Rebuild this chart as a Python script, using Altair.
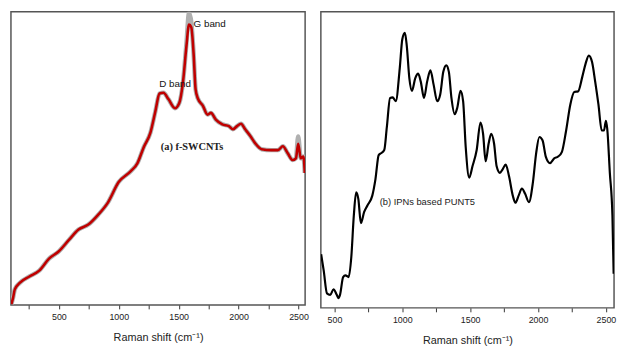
import altair as alt
import pandas as pd

# Left panel: f-SWCNTs (wavenumber, intensity in arbitrary units 0-100)
a_w = [104, 118, 132, 173, 254, 336, 418, 500, 582, 664, 746, 827, 909, 999, 1100, 1155,
       1209, 1264, 1305, 1340, 1373, 1414, 1469, 1504, 1537, 1564, 1586, 1605, 1624, 1641,
       1660, 1701, 1741, 1769, 1810, 1864, 1919, 1952, 1987, 2020, 2055, 2096, 2137, 2192,
       2274, 2328, 2369, 2410, 2451, 2478, 2497, 2519, 2541, 2552]
a_red = [0.3, 2.5, 5.3, 7.5, 9.7, 11.7, 15.8, 18.3, 22.1, 25.7, 27.4, 30.7, 34.9, 41.9, 45.6, 48.3,
         53.9, 58.8, 66.0, 72.1, 72.4, 70.2, 67.1, 68.8, 76.5, 88.1, 95.6, 94.7, 85.9, 73.5,
         70.4, 68.0, 64.9, 65.5, 63.2, 61.6, 61.0, 59.9, 61.0, 61.8, 59.9, 57.7, 55.2, 53.1,
         52.8, 52.8, 54.1, 51.7, 49.4, 50.0, 55.0, 50.0, 50.6, 45.0]
a_gray = [0.3, 2.5, 5.3, 7.5, 9.7, 11.7, 15.8, 18.3, 22.1, 25.7, 27.4, 30.7, 34.9, 41.9, 45.6, 48.3,
          53.9, 58.8, 66.0, 72.1, 72.4, 70.2, 67.1, 68.8, 76.5, 89.0, 99.6, 96.5, 85.9, 73.5,
          70.4, 68.0, 64.9, 65.5, 63.2, 61.6, 61.0, 59.9, 61.0, 61.8, 59.9, 57.7, 55.2, 53.1,
          52.8, 52.8, 54.1, 51.7, 49.4, 50.0, 57.5, 50.0, 50.6, 45.0]

# Right panel: IPNs based PUNT5
b_w = [402, 421, 445, 469, 493, 517, 529, 541, 564, 581, 605, 624, 643, 660, 676, 695, 719,
       743, 779, 802, 826, 843, 867, 886, 910, 929, 952, 981, 1000, 1019, 1033, 1052, 1071,
       1095, 1117, 1136, 1160, 1183, 1207, 1231, 1257, 1279, 1302, 1324, 1343, 1362, 1386,
       1405, 1429, 1448, 1467, 1493, 1517, 1548, 1576, 1595, 1614, 1636, 1655, 1676, 1695,
       1719, 1738, 1762, 1786, 1814, 1833, 1857, 1881, 1905, 1933, 1962, 1986, 2010, 2033,
       2057, 2088, 2119, 2148, 2176, 2207, 2238, 2267, 2295, 2326, 2350, 2374, 2398, 2421,
       2445, 2469, 2486, 2500, 2510, 2529, 2548, 2557]
b_i = [18.1, 12.6, 4.9, 4.4, 6.3, 4.4, 3.3, 4.4, 10.4, 11.0, 10.4, 17.0, 31.3, 39.0, 36.8, 28.6, 32.4,
       34.6, 37.9, 43.4, 51.6, 52.2, 53.3, 61.0, 70.9, 71.1, 69.8, 80.8, 90.7, 92.9, 88.5, 77.5, 73.3,
       77.5, 79.1, 76.4, 70.9, 76.4, 80.2, 75.3, 69.8, 72.0, 79.7, 81.9, 79.7, 70.9, 65.4,
       67.6, 73.3, 69.8, 54.4, 44.0, 47.8, 53.3, 62.6, 58.8, 49.5, 55.5, 58.8, 55.5, 47.8,
       45.6, 46.7, 48.4, 44.5, 37.9, 35.5, 37.9, 40.3, 38.5, 35.7, 42.3, 52.2, 57.7, 56.6,
       51.1, 48.9, 50.5, 51.1, 52.7, 59.9, 68.7, 72.9, 73.1, 78.0, 82.4, 85.2, 83.0, 76.4,
       68.7, 59.9, 59.9, 63.2, 60.4, 45.6, 31.3, 11.5]

a_ticks = [250, 500, 750, 1000, 1250, 1500, 1750, 2000, 2250, 2500]
b_ticks = [500, 750, 1000, 1250, 1500, 1750, 2000, 2250, 2500]
x_title = "Raman shift (cm\u207b\u00b9)"

a_df = pd.DataFrame({"w": a_w, "red": a_red, "gray": a_gray})
b_df = pd.DataFrame({"w": b_w, "i": b_i})

def xaxis(ticks):
    return alt.Axis(values=ticks, labelExpr="datum.value % 500 === 0 ? datum.label : ''",
                    format="d", title=x_title, grid=False, domain=False, tickSize=4,
                    tickColor="#333", labelFont="Liberation Sans", labelFontSize=9,
                    labelColor="#222", labelPadding=4, labelOverlap=False,
                    titleFont="Liberation Sans",
                    titleFontSize=11, titleFontWeight="normal", titleColor="#222",
                    titlePadding=10)

ysc = alt.Scale(domain=[0, 100])
a_sc = alt.Scale(domain=[100, 2555], nice=False, zero=False)
b_sc = alt.Scale(domain=[400, 2560], nice=False, zero=False)

ax = alt.X("w:Q", scale=a_sc, axis=xaxis(a_ticks))
gray = alt.Chart(a_df).mark_line(color="#b0b0b0", strokeWidth=4.5, interpolate="monotone",
                                 strokeJoin="round", clip=True).encode(
    x=ax, y=alt.Y("gray:Q", scale=ysc, axis=None))
red = alt.Chart(a_df).mark_line(color="#c00000", strokeWidth=2.6, interpolate="monotone",
                                strokeJoin="round", clip=True).encode(
    x=ax, y=alt.Y("red:Q", scale=ysc, axis=None))

a_lab = pd.DataFrame({"w": [1624, 1338], "y": [95.8, 75.2], "t": ["G band", "D band"]})
a_txt = alt.Chart(a_lab).mark_text(align="left", baseline="middle", font="Liberation Sans",
                                   fontSize=10, color="#111").encode(
    x=alt.X("w:Q", scale=a_sc, axis=xaxis(a_ticks)),
    y=alt.Y("y:Q", scale=ysc, axis=None), text="t:N")
a_name = pd.DataFrame({"w": [1351], "y": [53.9], "t": ["(a) f-SWCNTs"]})
a_txt2 = alt.Chart(a_name).mark_text(align="left", baseline="middle", font="Liberation Serif",
                                     fontSize=10.5, fontWeight="bold", color="#222").encode(
    x=alt.X("w:Q", scale=a_sc, axis=xaxis(a_ticks)),
    y=alt.Y("y:Q", scale=ysc, axis=None), text="t:N")

left = alt.layer(gray, red, a_txt, a_txt2).properties(width=299, height=298)

bx = alt.X("w:Q", scale=b_sc, axis=xaxis(b_ticks))
black = alt.Chart(b_df).mark_line(color="#000", strokeWidth=2.2, interpolate="monotone",
                                  strokeJoin="round", clip=True).encode(
    x=bx, y=alt.Y("i:Q", scale=ysc, axis=None))
b_name = pd.DataFrame({"w": [833], "y": [35.7], "t": ["(b) IPNs based PUNT5"]})
b_txt = alt.Chart(b_name).mark_text(align="left", baseline="middle", font="Liberation Sans",
                                    fontSize=9.5, color="#222").encode(
    x=alt.X("w:Q", scale=b_sc, axis=xaxis(b_ticks)),
    y=alt.Y("y:Q", scale=ysc, axis=None), text="t:N")
right = alt.layer(black, b_txt).properties(width=298, height=301)

chart = alt.hconcat(left, right, spacing=10).properties(
    padding={"left": 2, "top": 0, "right": 0, "bottom": 0}
).configure_view(stroke="#555", strokeWidth=1.5)

chart.save("out.html", embed_options={"renderer": "svg", "actions": False})
